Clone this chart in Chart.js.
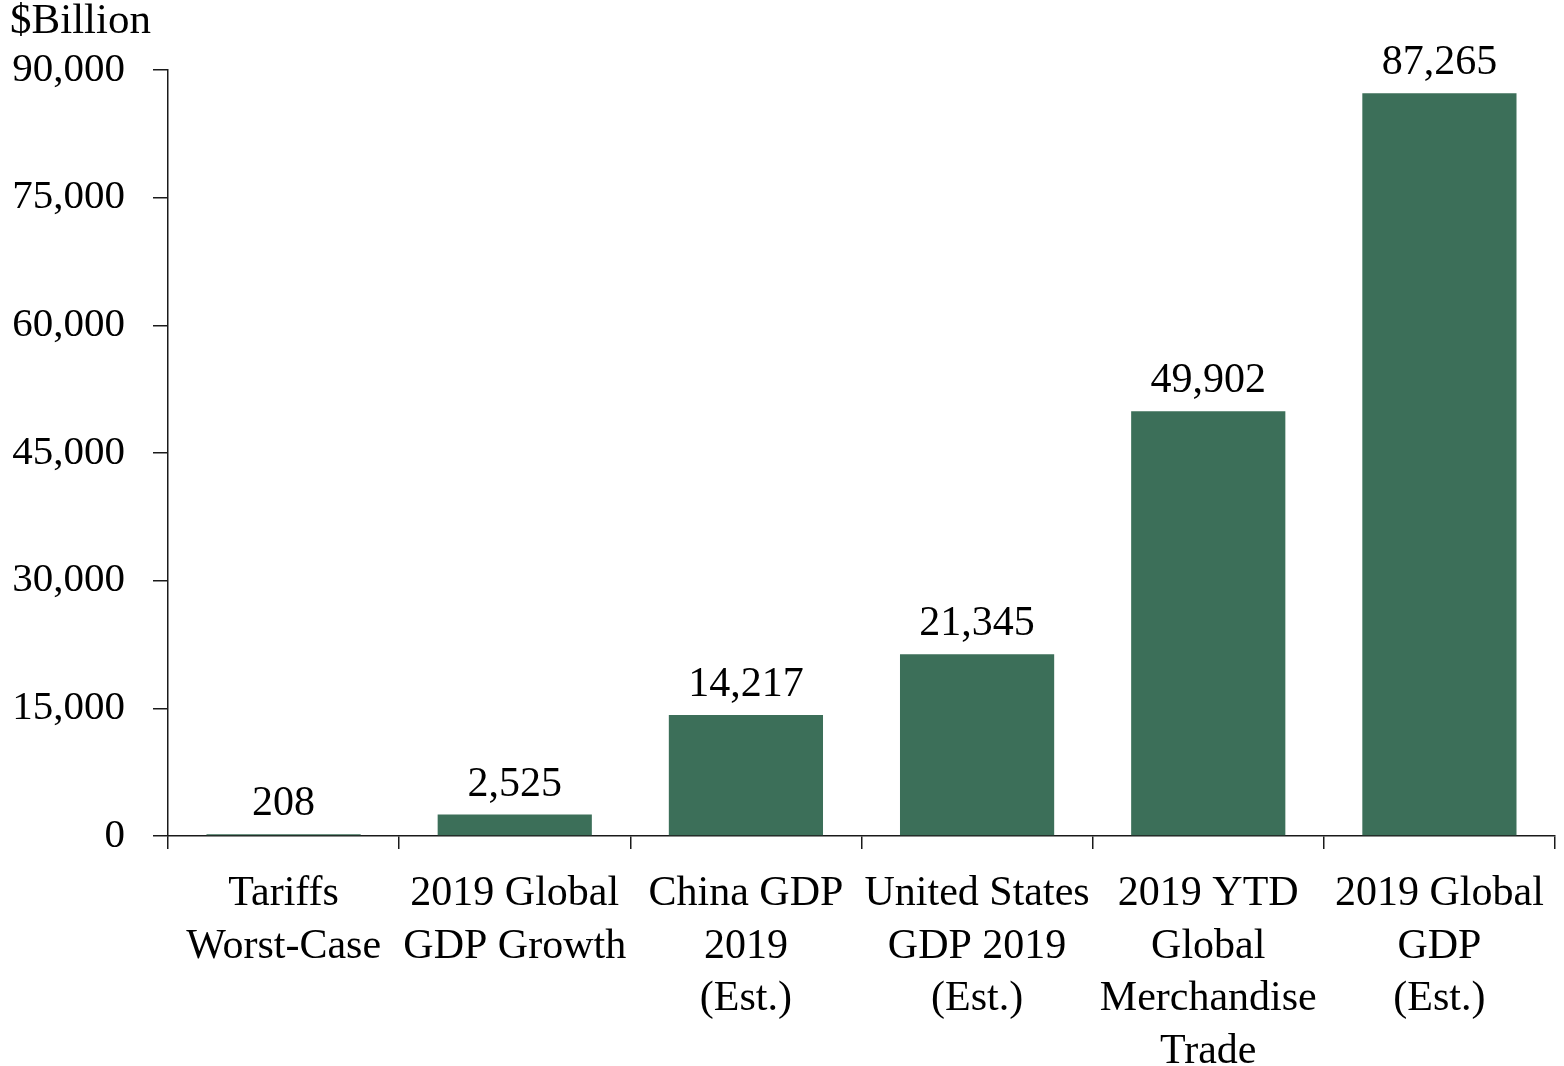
<!DOCTYPE html>
<html>
<head>
<meta charset="utf-8">
<script src="https://cdn.jsdelivr.net/npm/chart.js@4"></script>
<style>
  html, body { margin: 0; padding: 0; background: #fff; }
  #wrap { width: 1564px; height: 1066px; position: relative; }
</style>
</head>
<body>
<div id="wrap"><canvas id="c" width="1564" height="1066"></canvas></div>
<script>
const categories = [
  ["Tariffs", "Worst-Case"],
  ["2019 Global", "GDP Growth"],
  ["China GDP", "2019", "(Est.)"],
  ["United States", "GDP 2019", "(Est.)"],
  ["2019 YTD", "Global", "Merchandise", "Trade"],
  ["2019 Global", "GDP", "(Est.)"]
];
const values = [208, 2525, 14217, 21345, 49902, 87265];
const yTicks = [0, 15000, 30000, 45000, 60000, 75000, 90000];
const unitLabel = "$Billion";

const FONT = "'Liberation Serif', 'Times New Roman', serif";
const BAR = "#3c6f59";
const AXIS = "#1a1a1a";

const fmt = v => v.toLocaleString("en-US");

const labelPlugin = {
  id: "valueLabels",
  afterDatasetsDraw(chart) {
    const ctx = chart.ctx;
    const meta = chart.getDatasetMeta(0);
    ctx.save();
    ctx.font = "42px " + FONT;
    ctx.fillStyle = "#000";
    ctx.textAlign = "center";
    ctx.textBaseline = "alphabetic";
    meta.data.forEach((bar, i) => {
      ctx.fillText(fmt(values[i]), bar.x, bar.y - 19);
    });
    ctx.font = "43px " + FONT;
    ctx.textAlign = "left";
    ctx.textBaseline = "middle";
    ctx.fillText(unitLabel, 10, 22);
    ctx.restore();
  }
};

new Chart(document.getElementById("c"), {
  type: "bar",
  data: {
    labels: categories,
    datasets: [{
      data: values,
      backgroundColor: BAR,
      borderWidth: 0,
      barPercentage: 1,
      categoryPercentage: 0.667
    }]
  },
  options: {
    responsive: false,
    animation: false,
    devicePixelRatio: 1,
    layout: { padding: { top: 70, right: 9, left: 0, bottom: 0 } },
    plugins: { legend: { display: false }, tooltip: { enabled: false } },
    scales: {
      x: {
        offset: true,
        grid: { offset: true, drawOnChartArea: false, drawTicks: true, tickLength: 13, color: AXIS, lineWidth: 1.5 },
        border: { display: true, color: AXIS, width: 1.5 },
        ticks: {
          color: "#000",
          font: { family: FONT, size: 42, lineHeight: 1.25 },
          padding: 19,
          maxRotation: 0,
          autoSkip: false
        },
        afterFit(scale) { scale.height = 1066 - 836; }
      },
      y: {
        min: 0, max: 90000,
        afterBuildTicks(scale) { scale.ticks = yTicks.map(v => ({ value: v })); },
        grid: { drawOnChartArea: false, drawTicks: true, tickLength: 15, color: AXIS, lineWidth: 1.5 },
        border: { display: true, color: AXIS, width: 1.5 },
        ticks: {
          color: "#000",
          font: { family: FONT, size: 41 },
          padding: 28,
          callback: v => fmt(v)
        },
        afterFit(scale) { scale.width = 168; }
      }
    }
  },
  plugins: [labelPlugin]
});
</script>
</body>
</html>
